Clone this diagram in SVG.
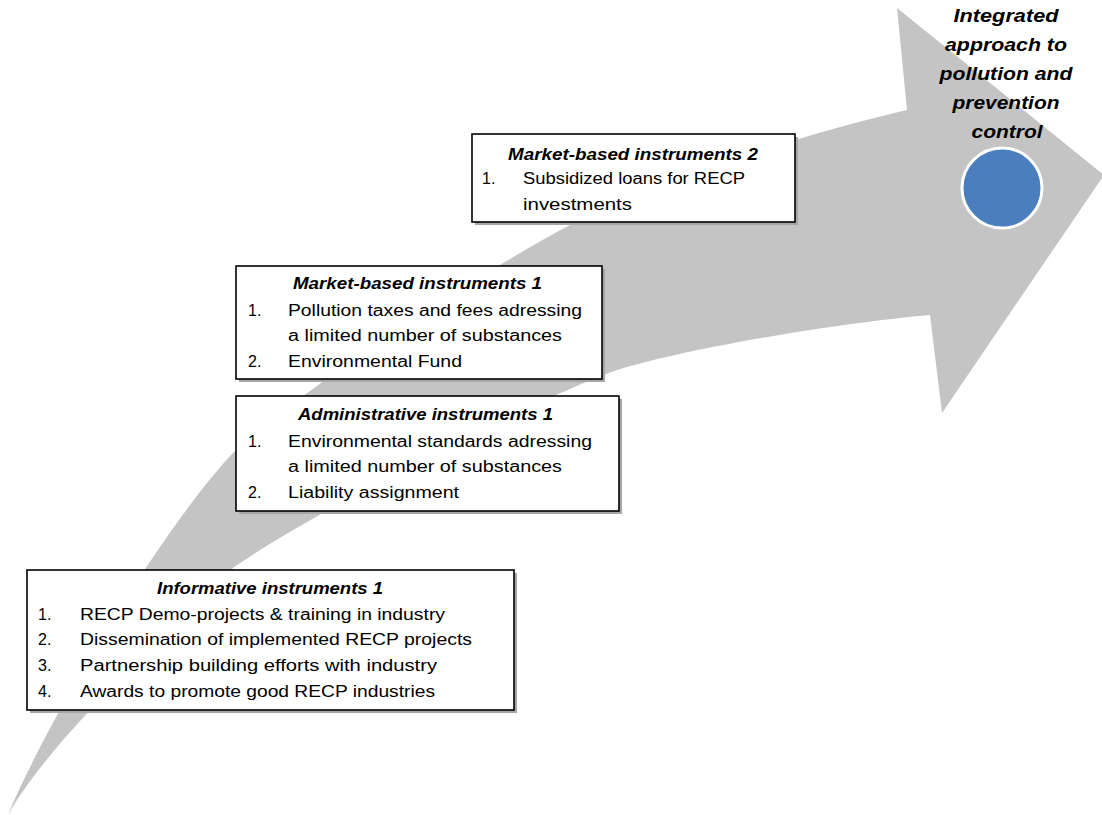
<svg xmlns="http://www.w3.org/2000/svg" width="1102" height="815" viewBox="0 0 1102 815">
<style>
.t{font-family:"Liberation Sans",Arial,sans-serif;font-size:16px;fill:#000}
.h{font-family:"Liberation Sans",Arial,sans-serif;font-size:16px;font-weight:bold;font-style:italic;fill:#000}
.g{font-family:"Liberation Sans",Arial,sans-serif;font-size:19px;font-weight:bold;font-style:italic;fill:#000}
.box{fill:#fff;stroke:#000;stroke-width:1.6}
.sh{fill:#a6a6a6}
</style>
<rect width="1102" height="815" fill="#fff"/>
<g id="arrow">
<path fill="#c4c4c4" d="M8,815 C45,725 160,530 233,453 C290,398 480,272 570,225 C660,180 800,135 907,110 L897,8 L1104,175 L942,413 L930,315 C850,322 700,345 617,370 C520,405 300,520 233,568 C160,640 50,740 8,815 Z"/>
</g>
<g id="connectors"></g>
<g id="goal">
<circle cx="1002" cy="188" r="40" fill="#4a7ebf" stroke="#fff" stroke-width="3"/>
<text class="g" x="1006" y="22" text-anchor="middle" textLength="105" lengthAdjust="spacingAndGlyphs">Integrated</text>
<text class="g" x="1006" y="51" text-anchor="middle" textLength="122" lengthAdjust="spacingAndGlyphs">approach to</text>
<text class="g" x="1006" y="80" text-anchor="middle" textLength="133" lengthAdjust="spacingAndGlyphs">pollution and</text>
<text class="g" x="1006" y="109" text-anchor="middle" textLength="107" lengthAdjust="spacingAndGlyphs">prevention</text>
<text class="g" x="1007" y="138" text-anchor="middle" textLength="71" lengthAdjust="spacingAndGlyphs">control</text>
</g>
<g id="market2">
<rect class="sh" x="475" y="137" width="323" height="88"/>
<rect class="box" x="472" y="134" width="323" height="88"/>
<text class="h" x="508" y="160" textLength="250" lengthAdjust="spacingAndGlyphs">Market-based instruments 2</text>
<text class="t" x="482" y="184">1.</text>
<text class="t" x="523" y="184" textLength="222" lengthAdjust="spacingAndGlyphs">Subsidized loans for RECP</text>
<text class="t" x="523" y="210" textLength="109" lengthAdjust="spacingAndGlyphs">investments</text>
</g>
<g id="market1">
<rect class="sh" x="239" y="269" width="366" height="113"/>
<rect class="box" x="236" y="266" width="366" height="113"/>
<text class="h" x="293" y="289" textLength="249" lengthAdjust="spacingAndGlyphs">Market-based instruments 1</text>
<text class="t" x="248" y="316">1.</text>
<text class="t" x="288" y="316" textLength="294" lengthAdjust="spacingAndGlyphs">Pollution taxes and fees adressing</text>
<text class="t" x="288" y="341" textLength="274" lengthAdjust="spacingAndGlyphs">a limited number of substances</text>
<text class="t" x="248" y="367">2.</text>
<text class="t" x="288" y="367" textLength="174" lengthAdjust="spacingAndGlyphs">Environmental Fund</text>
</g>
<g id="admin">
<rect class="sh" x="239" y="399" width="383" height="115"/>
<rect class="box" x="236" y="396" width="383" height="115"/>
<text class="h" x="298" y="420" textLength="255" lengthAdjust="spacingAndGlyphs">Administrative instruments 1</text>
<text class="t" x="248" y="447">1.</text>
<text class="t" x="288" y="447" textLength="304" lengthAdjust="spacingAndGlyphs">Environmental standards adressing</text>
<text class="t" x="288" y="472" textLength="274" lengthAdjust="spacingAndGlyphs">a limited number of substances</text>
<text class="t" x="248" y="498">2.</text>
<text class="t" x="288" y="498" textLength="171" lengthAdjust="spacingAndGlyphs">Liability assignment</text>
</g>
<g id="informative">
<rect class="sh" x="30" y="573" width="487" height="140"/>
<rect class="box" x="27" y="570" width="487" height="140"/>
<text class="h" x="157" y="594" textLength="226" lengthAdjust="spacingAndGlyphs">Informative instruments 1</text>
<text class="t" x="38" y="620">1.</text>
<text class="t" x="80" y="620" textLength="365" lengthAdjust="spacingAndGlyphs">RECP Demo-projects &amp; training  in industry</text>
<text class="t" x="38" y="645">2.</text>
<text class="t" x="80" y="645" textLength="392" lengthAdjust="spacingAndGlyphs">Dissemination of implemented RECP projects</text>
<text class="t" x="38" y="671">3.</text>
<text class="t" x="80" y="671" textLength="357" lengthAdjust="spacingAndGlyphs">Partnership building efforts with industry</text>
<text class="t" x="38" y="697">4.</text>
<text class="t" x="80" y="697" textLength="355" lengthAdjust="spacingAndGlyphs">Awards to promote good RECP industries</text>
</g>
</svg>
